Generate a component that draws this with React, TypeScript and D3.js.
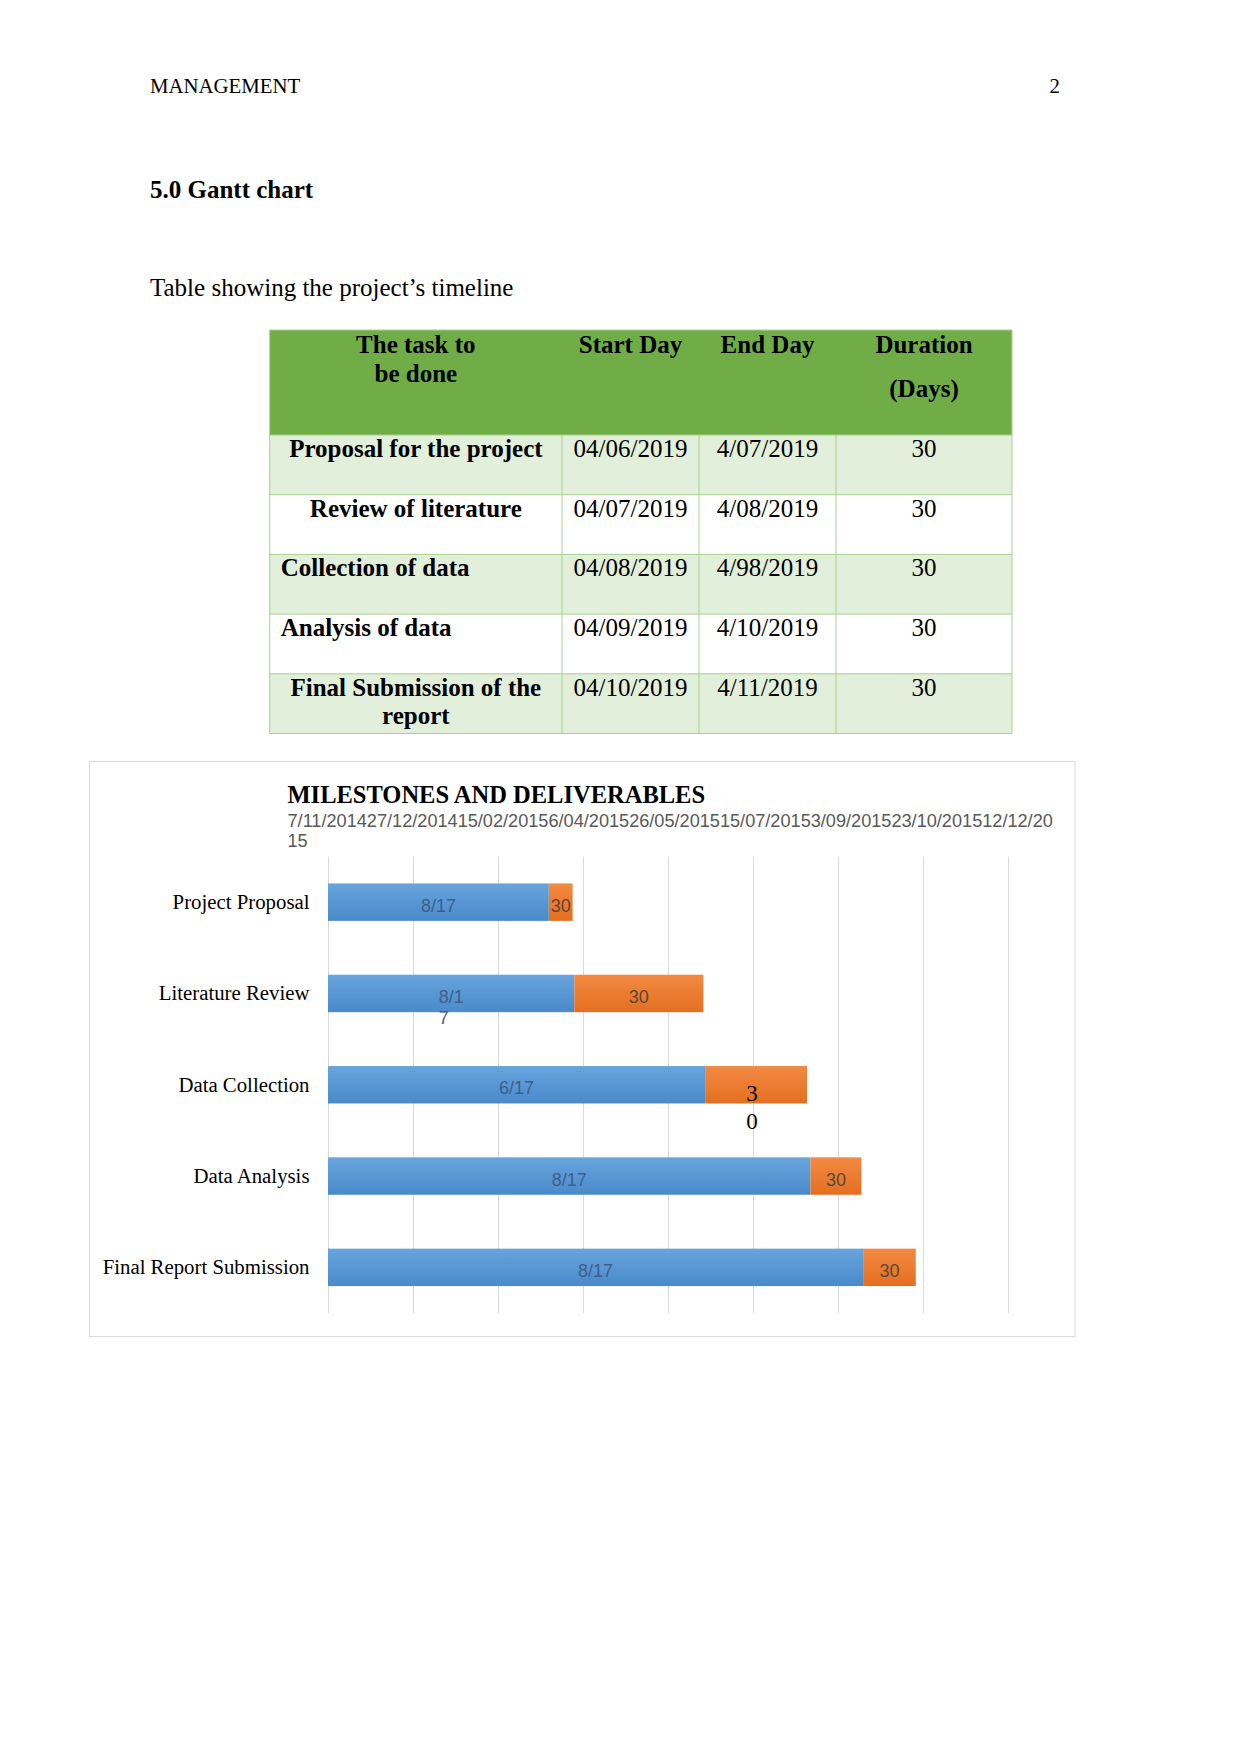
import { useMemo } from 'react';
import * as d3 from 'd3';

// page text
const runningHead = 'MANAGEMENT';
const pageNumber = '2';
const sectionTitle = '5.0 Gantt chart';
const tableCaption = 'Table showing the project’s timeline';

// table
const tableHeads = [['The task to', 'be done'], ['Start Day'], ['End Day'], ['Duration', '(Days)']];
const tableTasks = [
  ['Proposal for the project'],
  ['Review of literature'],
  ['Collection of data'],
  ['Analysis of data'],
  ['Final Submission of the', 'report'],
];
const tableStarts = ['04/06/2019', '04/07/2019', '04/08/2019', '04/09/2019', '04/10/2019'];
const tableEnds = ['4/07/2019', '4/08/2019', '4/98/2019', '4/10/2019', '4/11/2019'];
const tableDurations = ['30', '30', '30', '30', '30'];

// chart
const chartTitle = 'MILESTONES AND DELIVERABLES';
const tasks = ['Project Proposal', 'Literature Review', 'Data Collection', 'Data Analysis', 'Final Report Submission'];
const startDates = ['2015-03-17', '2015-04-01', '2015-06-17', '2015-08-18', '2015-09-18'];
const durationDays = [14, 76, 60, 30, 31];
const startLabels = [['8/17'], ['8/1', '7'], ['6/17'], ['8/17'], ['8/17']];
const durationLabels = [['30'], ['30'], ['3', '0'], ['30'], ['30']];
const tickLabels = ['7/11/2014', '27/12/2014', '15/02/2015', '6/04/2015', '26/05/2015', '15/07/2015', '3/09/2015', '23/10/2015', '12/12/2015'];

const SERIF = "'Liberation Serif', 'Times New Roman', serif";
const SANS = "'Liberation Sans', Arial, sans-serif";

// char-level wrap, like the squashed axis labels in the original
function wrapChars(text: string, font: string, maxWidth: number) {
  const ctx = document.createElement('canvas').getContext('2d');
  if (!ctx) return [text];
  ctx.font = font;
  const lines: string[] = [];
  let cur = '';
  for (const ch of text) {
    if (cur && ctx.measureText(cur + ch).width > maxWidth) {
      lines.push(cur);
      cur = ch;
    } else cur += ch;
  }
  if (cur) lines.push(cur);
  return lines;
}

function Table() {
  const cols = [269.7, 562, 699, 836, 1012];
  const top = 330;
  const headBottom = 435;
  const rowH = 59.7;
  const leftAligned = new Set([2, 3]);
  const cells = tableTasks.map((t, i) => [t, [tableStarts[i]], [tableEnds[i]], [tableDurations[i]]]);

  return (
    <g fontFamily={SERIF} fontSize={25}>
      <rect x={cols[0]} y={top} width={cols[4] - cols[0]} height={headBottom - top} fill="#70AD47" />
      {tableHeads.map((lines, c) => (
        <text key={c} x={(cols[c] + cols[c + 1]) / 2} textAnchor="middle" fontWeight="bold" fill="#000">
          {lines.map((l, k) => (
            <tspan key={k} x={(cols[c] + cols[c + 1]) / 2} y={352.5 + k * (c === 3 ? 44.5 : 29)}>{l}</tspan>
          ))}
        </text>
      ))}
      {cells.map((row, r) => {
        const y0 = headBottom + r * rowH;
        return (
          <g key={r}>
            <rect x={cols[0]} y={y0} width={cols[4] - cols[0]} height={rowH} fill={r % 2 === 0 ? '#E2EFDA' : '#FFFFFF'} />
            {row.map((lines, c) => {
              const left = c === 0 && leftAligned.has(r);
              const tx = left ? cols[0] + 11 : (cols[c] + cols[c + 1]) / 2;
              return (
                <text key={c} textAnchor={left ? 'start' : 'middle'} fontWeight={c === 0 ? 'bold' : 'normal'} fill="#000">
                  {lines.map((l, k) => (
                    <tspan key={k} x={tx} y={y0 + 22 + k * 28.5}>{l}</tspan>
                  ))}
                </text>
              );
            })}
          </g>
        );
      })}
      {/* grid lines */}
      {d3.range(tableTasks.length + 1).map(i => (
        <line key={'h' + i} x1={cols[0]} x2={cols[4]} y1={headBottom + i * rowH} y2={headBottom + i * rowH} stroke="#A9D08E" strokeWidth={1} />
      ))}
      <line x1={cols[0]} x2={cols[4]} y1={top} y2={top} stroke="#A9D08E" />
      {cols.map((cx, i) => (
        <line key={'v' + i} x1={cx} x2={cx} y1={i === 0 || i === 4 ? top : headBottom} y2={headBottom + tableTasks.length * rowH} stroke="#A9D08E" />
      ))}
    </g>
  );
}

function Gantt() {
  const parseTick = d3.utcParse('%d/%m/%Y');
  const parseDay = d3.utcParse('%Y-%m-%d');
  const tickDates = tickLabels.map(t => parseTick(t) as Date);

  const x = d3.scaleUtc()
    .domain([tickDates[0], tickDates[tickDates.length - 1]])
    .range([328, 1007.5]);

  const y = d3.scaleBand()
    .domain(tasks)
    .range([856.5, 1313])
    .paddingInner(0.59)
    .paddingOuter(0.295);

  const bars = tasks.map((t, i) => {
    const s = parseDay(startDates[i]) as Date;
    const e = d3.utcDay.offset(s, durationDays[i]);
    return { task: t, x0: x(tickDates[0]), x1: x(s), x2: x(e), y: y(t) as number };
  });

  const tickFont = `18.15px ${SANS}`;
  const tickLines = useMemo(() => wrapChars(tickLabels.join(''), tickFont, 771), [tickFont]);

  const bh = y.bandwidth();
  const serifLabel = (i: number) => i === 2;

  return (
    <g>
      <defs>
        <linearGradient id="gBlue" x1="0" y1="0" x2="0" y2="1">
          <stop offset="0" stopColor="#68A5DE" />
          <stop offset="1" stopColor="#4A8ACA" />
        </linearGradient>
        <linearGradient id="gOrange" x1="0" y1="0" x2="0" y2="1">
          <stop offset="0" stopColor="#F28A43" />
          <stop offset="1" stopColor="#E46F20" />
        </linearGradient>
      </defs>
      <rect x={89.5} y={761.5} width={985.5} height={575} fill="#fff" stroke="#D9D9D9" strokeWidth={1} />

      <text x={287.5} y={803} fontFamily={SERIF} fontSize={24.5} fontWeight="bold" fill="#000">{chartTitle}</text>
      <text fontFamily={SANS} fontSize={18.15} fill="#595959">
        {tickLines.map((l, k) => (
          <tspan key={k} x={287.5} y={826.5 + k * 20.5}>{l}</tspan>
        ))}
      </text>

      {/* vertical gridlines at each tick */}
      {tickDates.map((d, i) => (
        <line key={i} x1={Math.round(x(d)) + 0.5} x2={Math.round(x(d)) + 0.5} y1={856.5} y2={1313} stroke="#D9D9D9" strokeWidth={1} />
      ))}

      {tasks.map(t => (
        <text key={t} x={309.5} y={(y(t) as number) + bh / 2 + 7} textAnchor="end" fontFamily={SERIF} fontSize={20.8} fill="#000">{t}</text>
      ))}

      {bars.map((b, i) => {
        const cy = b.y + bh / 2;
        const blueMid = (b.x0 + b.x1) / 2;
        const orangeMid = (b.x1 + b.x2) / 2;
        const sl = startLabels[i];
        const dl = durationLabels[i];
        const slWidth = d3.max(sl, s => s.length) || 0;
        return (
          <g key={b.task}>
            <rect x={b.x0} y={b.y} width={b.x1 - b.x0} height={bh} fill="url(#gBlue)" />
            <rect x={b.x1} y={b.y} width={b.x2 - b.x1} height={bh} fill="url(#gOrange)" />
            <text fontFamily={SANS} fontSize={18} fill="#3F5E8C" textAnchor={sl.length > 1 ? 'start' : 'middle'}>
              {sl.map((l, k) => {
                const lx = sl.length > 1 ? blueMid - (slWidth * 0.5 * 18 * 0.92) / 2 : blueMid;
                return <tspan key={k} x={lx} y={cy + 9.5 + k * 21.5}>{l}</tspan>;
              })}
            </text>
            {serifLabel(i) ? (
              <text fontFamily={SERIF} fontSize={23} fill="#000" textAnchor="middle">
                {dl.map((l, k) => (
                  <tspan key={k} x={orangeMid - 4} y={cy + 16.5 + k * 28}>{l}</tspan>
                ))}
              </text>
            ) : (
              <text fontFamily={SANS} fontSize={18} fill="#5A4738" textAnchor="middle">
                {dl.map((l, k) => (
                  <tspan key={k} x={orangeMid} y={cy + 9.5 + k * 21}>{l}</tspan>
                ))}
              </text>
            )}
          </g>
        );
      })}
    </g>
  );
}

export default function App() {
  return (
    <div style={{ position: 'absolute', left: 0, top: 0 }}>
      <svg width={1241} height={1754} style={{ display: 'block', background: '#fff' }}>
        <text x={150} y={92.5} fontFamily={SERIF} fontSize={20.8} fill="#000">{runningHead}</text>
        <text x={1060} y={92.5} textAnchor="end" fontFamily={SERIF} fontSize={20.8} fill="#000">{pageNumber}</text>
        <text x={150} y={197.5} fontFamily={SERIF} fontSize={25} fontWeight="bold" fill="#000">{sectionTitle}</text>
        <text x={150} y={295.5} fontFamily={SERIF} fontSize={25} fill="#000">{tableCaption}</text>
        <Table />
        <Gantt />
      </svg>
    </div>
  );
}
